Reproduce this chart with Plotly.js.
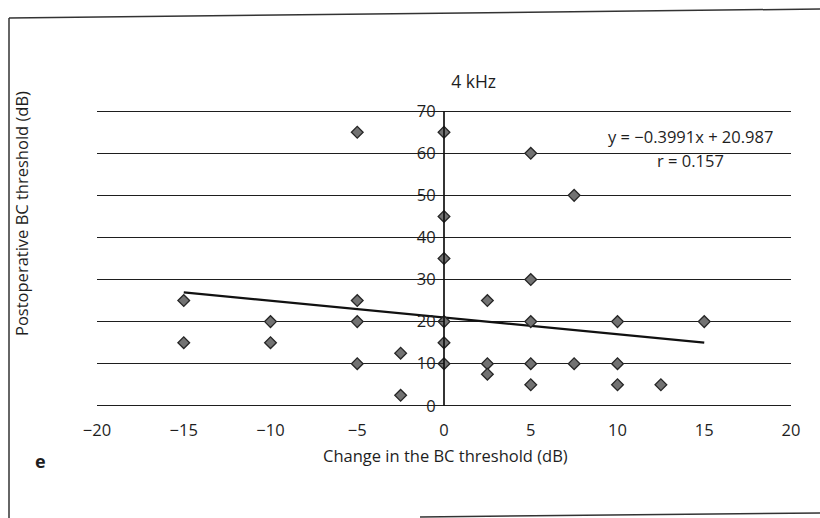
<!DOCTYPE html>
<html>
<head>
<meta charset="utf-8">
<script src="https://cdn.plot.ly/plotly-3.0.1.min.js"></script>
<style>
html,body{margin:0;padding:0;background:#fff;}
#chart{width:820px;height:518px;}
</style>
</head>
<body>
<div id="chart"></div>
<script>
// Data
const changeBC = [-15, -15, -10, -10, -5, -5, -5, -5, -2.5, -2.5, 0, 0, 0, 0, 0, 0, 2.5, 2.5, 2.5, 5, 5, 5, 5, 5, 7.5, 7.5, 10, 10, 10, 12.5, 15];
const postBC   = [25, 15, 20, 15, 65, 25, 20, 10, 12.5, 2.5, 65, 45, 35, 20, 15, 10, 25, 10, 7.5, 60, 30, 20, 10, 5, 50, 10, 20, 10, 5, 5, 20];
const trendX = [-15, 15];
const trendY = [26.97, 15.0];
const xTicks = [-20, -15, -10, -5, 0, 5, 10, 15, 20];
const yTicks = [0, 10, 20, 30, 40, 50, 60, 70];
const titleText = '4 kHz';
const xTitle = 'Change in the BC threshold (dB)';
const yTitle = 'Postoperative BC threshold (dB)';
const eqText = 'y = −0.3991x + 20.987';
const rText = 'r = 0.157';
const panelLabel = 'e';

const FONT = 'Open Sans, Noto Sans, sans-serif';
const INK = '#1e1e1e';

const traces = [
  {
    x: trendX, y: trendY, type: 'scatter', mode: 'lines',
    line: {color: '#111', width: 2.2}, hoverinfo: 'skip', showlegend: false
  },
  {
    x: changeBC, y: postBC, type: 'scatter', mode: 'markers',
    marker: {symbol: 'diamond', size: 9, color: '#727272', line: {color: '#262626', width: 1.3}},
    showlegend: false
  }
];

// plot area: y=0 at px ~406, y=70 at px ~111; x=-20 at px 97, x=20 at px 791
const M = {l: 97, r: 29, t: 107, b: 108};
const plotH = 518 - M.t - M.b;
function px2paperX(px){ return (px - M.l) / (820 - M.l - M.r); }
function px2paperY(py){ return (518 - M.b - py) / plotH; }

const frameColor = '#333';
const shapes = [
  // y axis line from 0 to 70 at x = 0
  {type:'line', xref:'x', yref:'y', x0:0, y0:yTicks[0], x1:0, y1:yTicks[yTicks.length-1], line:{color:'#111', width:1.7}},
  // scan frame
  {type:'line', xref:'paper', yref:'paper', x0:px2paperX(9), y0:px2paperY(18), x1:px2paperX(9), y1:px2paperY(518), line:{color:frameColor, width:1.5}},
  {type:'line', xref:'paper', yref:'paper', x0:px2paperX(9), y0:px2paperY(18), x1:px2paperX(820), y1:px2paperY(9), line:{color:frameColor, width:1.5}},
  {type:'line', xref:'paper', yref:'paper', x0:px2paperX(420), y0:px2paperY(517), x1:px2paperX(820), y1:px2paperY(513), line:{color:frameColor, width:1.5}}
];

const layout = {
  width: 820, height: 518,
  margin: M,
  paper_bgcolor: '#fff', plot_bgcolor: '#fff',
  font: {family: FONT, color: INK, size: 16},
  showlegend: false,
  title: {text: titleText, x: 445/820, xanchor: 'center', y: 1 - 82/518, yanchor: 'middle', xref: 'paper', font: {family: FONT, size: 17.5, color: INK}},
  xaxis: {
    range: [-20, 20], tickvals: xTicks, ticktext: xTicks.map(v => v < 0 ? '−' + Math.abs(v) : String(v)),
    showgrid: false, zeroline: false, showline: false, ticks: '',
    ticklabelstandoff: 8, tickfont: {family: FONT, size: 16.5, color: INK}, fixedrange: true
  },
  yaxis: {
    range: [-1, 71], tickvals: yTicks, anchor: 'free', position: 0.5,
    showline: false,
    ticks: 'outside', ticklen: 5, tickcolor: '#222', tickwidth: 1,
    showgrid: true, gridcolor: '#1e1e1e', gridwidth: 1,
    zeroline: true, zerolinecolor: '#1e1e1e', zerolinewidth: 1,
    tickfont: {family: FONT, size: 16.5, color: INK}, fixedrange: true
  },
  shapes: shapes,
  annotations: [
    {text: eqText, x: 14.2, y: 63.9, xref: 'x', yref: 'y', showarrow: false, xanchor: 'center', yanchor: 'middle', font: {family: FONT, size: 16.5, color: INK}},
    {text: rText, x: 14.2, y: 58.2, xref: 'x', yref: 'y', showarrow: false, xanchor: 'center', yanchor: 'middle', font: {family: FONT, size: 16.5, color: INK}},
    {text: xTitle, x: px2paperX(445), y: px2paperY(455), xref: 'paper', yref: 'paper', showarrow: false, xanchor: 'center', yanchor: 'middle', font: {family: FONT, size: 16.5, color: INK}},
    {text: yTitle, x: px2paperX(21), y: px2paperY(214), xref: 'paper', yref: 'paper', showarrow: false, textangle: -90, xanchor: 'center', yanchor: 'middle', font: {family: FONT, size: 16.5, color: INK}},
    {text: '<b>' + panelLabel + '</b>', x: px2paperX(40), y: px2paperY(461), xref: 'paper', yref: 'paper', showarrow: false, xanchor: 'center', yanchor: 'middle', font: {family: FONT, size: 18, color: INK}}
  ]
};

Plotly.newPlot('chart', traces, layout, {displayModeBar: false, staticPlot: true});
</script>
</body>
</html>
